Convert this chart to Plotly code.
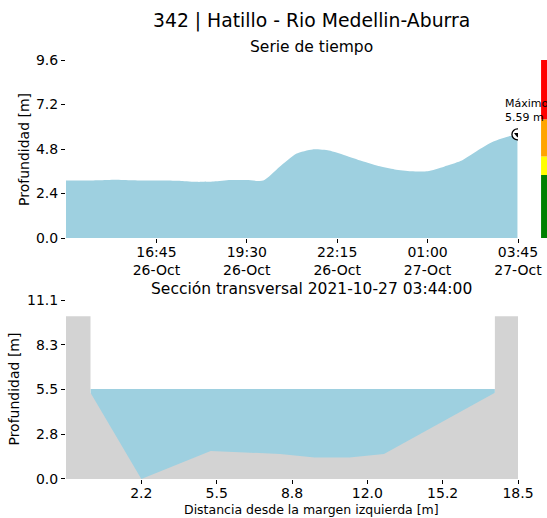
import numpy as np
import plotly.graph_objects as go

FONT = "DejaVu Sans"
COLOR_WATER = "#9ED0E0"
COLOR_GROUND = "#D3D3D3"

# Serie de tiempo (profundidad en m)
times = [
    "2021-10-26 14:00", "2021-10-26 14:30", "2021-10-26 15:00", "2021-10-26 15:30",
    "2021-10-26 16:00", "2021-10-26 16:30", "2021-10-26 17:00", "2021-10-26 17:30",
    "2021-10-26 18:00", "2021-10-26 18:30", "2021-10-26 19:00", "2021-10-26 19:30",
    "2021-10-26 20:00", "2021-10-26 20:30", "2021-10-26 21:00", "2021-10-26 21:30",
    "2021-10-26 22:00", "2021-10-26 22:30", "2021-10-26 23:00", "2021-10-26 23:30",
    "2021-10-27 00:00", "2021-10-27 00:30", "2021-10-27 01:00", "2021-10-27 01:30",
    "2021-10-27 02:00", "2021-10-27 02:30", "2021-10-27 03:00", "2021-10-27 03:30",
    "2021-10-27 03:44",
]
depth = [
    3.10, 3.10, 3.12, 3.15, 3.12, 3.10, 3.10, 3.08,
    3.03, 3.05, 3.13, 3.13, 3.10, 3.85, 4.55, 4.78,
    4.72, 4.45, 4.15, 3.88, 3.70, 3.60, 3.60, 3.85,
    4.15, 4.70, 5.20, 5.50, 5.59,
]
time_ticks = ["2021-10-26 16:45", "2021-10-26 19:30", "2021-10-26 22:15",
              "2021-10-27 01:00", "2021-10-27 03:45"]
time_ticktext = ["16:45<br>26-Oct", "19:30<br>26-Oct", "22:15<br>26-Oct",
                 "01:00<br>27-Oct", "03:45<br>27-Oct"]
time_range = ["2021-10-26 14:00", "2021-10-27 03:45"]

# Umbrales de alerta (barra lateral)
level_edges = [0.0, 3.4, 4.4, 6.4, 9.6]
level_colors = ["#008000", "#FFFF00", "#FFA500", "#FF0000"]

# Seccion transversal
ground_x = [-1.06, 0.0, 0.0, 2.2, 5.2, 8.2, 9.7, 11.2, 12.7, 17.5, 17.5, 18.5]
ground_z = [10.1, 10.1, 5.35, 0.0, 1.74, 1.55, 1.34, 1.34, 1.55, 5.35, 10.1, 10.1]
water_x = [0.0, 17.5]
water_level = 5.59
dist_ticktext = ["2.2", "5.5", "8.8", "12.0", "15.2", "18.5"]
sec_yticks = ["0.0", "2.8", "5.5", "8.3", "11.1"]

fig = go.Figure()

fig.add_trace(go.Scatter(
    x=times, y=depth, mode="lines", fill="tozeroy", fillcolor=COLOR_WATER,
    line=dict(width=0, shape="spline", smoothing=0.6, color=COLOR_WATER),
    xaxis="x", yaxis="y", showlegend=False,
))

imax = int(np.argmax(depth))
fig.add_trace(go.Scatter(
    x=[times[imax]], y=[depth[imax]], mode="markers",
    marker=dict(symbol="circle", size=11, color="white", line=dict(color="black", width=1.3)),
    xaxis="x", yaxis="y", showlegend=False,
))
fig.add_trace(go.Scatter(
    x=[times[imax]], y=[depth[imax]], mode="markers",
    marker=dict(symbol="triangle-down", size=6, color="black"),
    xaxis="x", yaxis="y", showlegend=False,
))

fig.add_trace(go.Scatter(
    x=water_x, y=[water_level] * len(water_x), mode="lines", fill="tozeroy",
    fillcolor=COLOR_WATER, line=dict(width=0, color=COLOR_WATER),
    xaxis="x2", yaxis="y2", showlegend=False,
))
fig.add_trace(go.Scatter(
    x=ground_x, y=ground_z, mode="lines", fill="tozeroy",
    fillcolor=COLOR_GROUND, line=dict(width=0, color=COLOR_GROUND),
    xaxis="x2", yaxis="y2", showlegend=False,
))

for lo, hi, col in zip(level_edges[:-1], level_edges[1:], level_colors):
    fig.add_shape(type="rect", xref="paper", yref="y", x0=1.051, x1=1.08, y0=lo, y1=hi,
                  fillcolor=col, line_width=0, layer="above")

axis_common = dict(showline=False, showgrid=False, zeroline=False, ticks="outside",
                   ticklen=4, tickcolor="black", automargin=False,
                   tickfont=dict(size=14, color="black"))

x2_min, x2_max = ground_x[0], ground_x[-1]
x2_ticks = list(np.linspace(x2_min, x2_max, 7)[1:])
y2_max = float(sec_yticks[-1])

fig.update_layout(
    width=547, height=518,
    margin=dict(l=66, r=29, t=60, b=39),
    paper_bgcolor="white", plot_bgcolor="white",
    font=dict(family=FONT, color="black"),
    xaxis=dict(axis_common, type="date", range=time_range, tickvals=time_ticks,
               ticktext=time_ticktext, anchor="y", domain=[0, 1], ticklabelstandoff=-3),
    yaxis=dict(axis_common, range=[0, 9.6], tickvals=[0, 2.4, 4.8, 7.2, 9.6],
               ticktext=["0.0", "2.4", "4.8", "7.2", "9.6"], domain=[0.575, 1], anchor="x"),
    xaxis2=dict(axis_common, range=[x2_min, x2_max], tickvals=x2_ticks,
                ticktext=dist_ticktext, anchor="y2", domain=[0, 1], ticklabelstandoff=-3),
    yaxis2=dict(axis_common, range=[0, y2_max], tickvals=list(np.linspace(0, y2_max, 5)),
                ticktext=sec_yticks, domain=[0, 0.427], anchor="x2"),
)

title_x = 0.544
annotations = [
    dict(text="342 | Hatillo - Rio Medellin-Aburra", x=title_x, y=1.093, font_size=18.8),
    dict(text="Serie de tiempo", x=title_x, y=1.031, font_size=15.5),
    dict(text="Sección transversal 2021-10-27 03:44:00", x=title_x, y=0.453, font_size=15.5),
    dict(text="Distancia desde la margen izquierda [m]", x=title_x, y=-0.0716, font_size=12.5),
    dict(text="Profundidad [m]", x=-0.093, y=0.7875, font_size=14, textangle=-90),
    dict(text="Profundidad [m]", x=-0.115, y=0.2135, font_size=14, textangle=-90),
]
for a in annotations:
    fig.add_annotation(xref="paper", yref="paper", showarrow=False,
                       xanchor="center", yanchor="middle", **a)

fig.add_annotation(
    x=times[imax], y=depth[imax], xref="x", yref="y", showarrow=False,
    text=f"Máximo<br>{depth[imax]:.2f} m", align="left", xanchor="left", yanchor="bottom",
    xshift=-14, yshift=8, font=dict(size=11, color="black"),
)

# drop the page's default body margin so the 547x518 figure fills the window
fig.write_html("out.html", config={"displayModeBar": False},
               post_script="document.body.style.margin = '0';")
